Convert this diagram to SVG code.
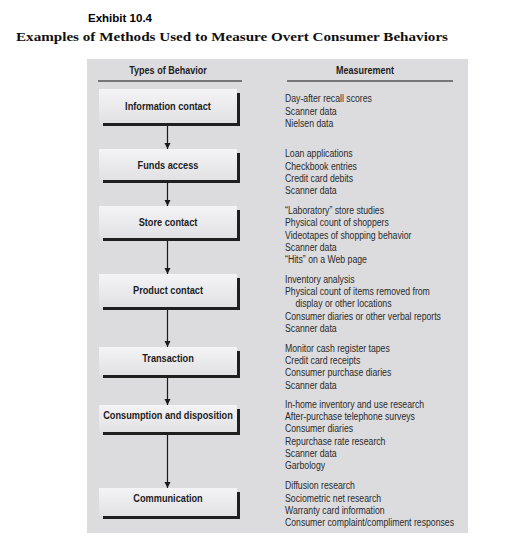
<svg xmlns="http://www.w3.org/2000/svg" width="508" height="538" viewBox="0 0 508 538">
<defs>
<linearGradient id="boxg" x1="0" y1="0" x2="0" y2="1">
<stop offset="0" stop-color="#f4f4f6"/>
<stop offset="1" stop-color="#e1e1e3"/>
</linearGradient>
<marker id="arr" viewBox="0 0 6 10" refX="6" refY="5" markerWidth="6" markerHeight="10" markerUnits="userSpaceOnUse" orient="auto">
<path d="M0,2 L6,5 L0,8 z" fill="#1a1a1a"/>
</marker>
</defs>
<style>
.panel{fill:#dcdcdf}
.box{fill:url(#boxg)}
.shadow{fill:#1f1f1f}
.lbl{font-family:"Liberation Sans",Arial,sans-serif;font-weight:bold;font-size:10.7px;fill:#1c1c24;text-anchor:middle}
.hdr{font-family:"Liberation Sans",Arial,sans-serif;font-weight:bold;font-size:10.5px;fill:#1c1c1c;text-anchor:middle}
.m{font-family:"Liberation Sans",Arial,sans-serif;font-size:10px;fill:#2a2a2a}
.conn{stroke:#1a1a1a;stroke-width:1.2;fill:none}
.rule{stroke:#111;stroke-width:1}
</style>
<text x="88" y="21.5" font-family="Liberation Sans,Arial,sans-serif" font-weight="bold" font-size="10" fill="#000" textLength="64" lengthAdjust="spacingAndGlyphs">Exhibit 10.4</text>
<text x="16" y="41" font-family="Liberation Serif,'Times New Roman',serif" font-weight="bold" font-size="12.5" fill="#111" textLength="432" lengthAdjust="spacingAndGlyphs">Examples of Methods Used to Measure Overt Consumer Behaviors</text>
<rect class="panel" x="87" y="59" width="381" height="474"/>
<g id="headers">
<g transform="translate(168 0) scale(0.86 1)"><text class="hdr" x="0" y="74">Types of Behavior</text></g>
<g transform="translate(365 0) scale(0.86 1)"><text class="hdr" x="0" y="74">Measurement</text></g>
<line class="rule" x1="98" y1="81" x2="242" y2="81"/>
<line class="rule" x1="287" y1="81" x2="453" y2="81"/>
</g>
<g id="connectors">
<line class="conn" x1="167.5" y1="126" x2="167.5" y2="149" marker-end="url(#arr)"/>
<line class="conn" x1="167.5" y1="183" x2="167.5" y2="206" marker-end="url(#arr)"/>
<line class="conn" x1="167.5" y1="241" x2="167.5" y2="274" marker-end="url(#arr)"/>
<line class="conn" x1="167.5" y1="310" x2="167.5" y2="347" marker-end="url(#arr)"/>
<line class="conn" x1="167.5" y1="378" x2="167.5" y2="405" marker-end="url(#arr)"/>
<line class="conn" x1="167.5" y1="435" x2="167.5" y2="488" marker-end="url(#arr)"/>
</g>
<g id="node-information">
<rect class="shadow" x="103" y="93" width="137" height="33"/>
<rect class="box" x="99" y="89" width="138" height="34"/>
<g transform="translate(168 0) scale(0.86 1)"><text class="lbl" x="0" y="110">Information contact</text></g>
</g>
<g id="node-funds">
<rect class="shadow" x="103" y="153" width="137" height="30"/>
<rect class="box" x="99" y="149" width="138" height="31"/>
<g transform="translate(168 0) scale(0.86 1)"><text class="lbl" x="0" y="169">Funds access</text></g>
</g>
<g id="node-store">
<rect class="shadow" x="103" y="210" width="137" height="31"/>
<rect class="box" x="99" y="206" width="138" height="32"/>
<g transform="translate(168 0) scale(0.86 1)"><text class="lbl" x="0" y="226">Store contact</text></g>
</g>
<g id="node-product">
<rect class="shadow" x="103" y="278" width="137" height="32"/>
<rect class="box" x="99" y="274" width="138" height="33"/>
<g transform="translate(168 0) scale(0.86 1)"><text class="lbl" x="0" y="294.5">Product contact</text></g>
</g>
<g id="node-transaction">
<rect class="shadow" x="103" y="351" width="137" height="27"/>
<rect class="box" x="99" y="347" width="138" height="28"/>
<g transform="translate(168 0) scale(0.86 1)"><text class="lbl" x="0" y="362.5">Transaction</text></g>
</g>
<g id="node-consumption">
<rect class="shadow" x="103" y="409" width="137" height="26"/>
<rect class="box" x="99" y="405" width="138" height="27"/>
<g transform="translate(168 0) scale(0.86 1)"><text class="lbl" x="0" y="419.5">Consumption and disposition</text></g>
</g>
<g id="node-communication">
<rect class="shadow" x="103" y="492" width="137" height="27"/>
<rect class="box" x="99" y="488" width="138" height="28"/>
<g transform="translate(168 0) scale(0.86 1)"><text class="lbl" x="0" y="502.5">Communication</text></g>
</g>
<g id="measurements" transform="translate(285 0) scale(0.87 1)">
<text class="m" x="0" y="102.5">Day-after recall scores</text>
<text class="m" x="0" y="114.8">Scanner data</text>
<text class="m" x="0" y="127.1">Nielsen data</text>
<text class="m" x="0" y="157.5">Loan applications</text>
<text class="m" x="0" y="169.8">Checkbook entries</text>
<text class="m" x="0" y="182.1">Credit card debits</text>
<text class="m" x="0" y="194.4">Scanner data</text>
<text class="m" x="0" y="214">“Laboratory” store studies</text>
<text class="m" x="0" y="226.3">Physical count of shoppers</text>
<text class="m" x="0" y="238.6">Videotapes of shopping behavior</text>
<text class="m" x="0" y="250.9">Scanner data</text>
<text class="m" x="0" y="263.2">“Hits” on a Web page</text>
<text class="m" x="0" y="282.7">Inventory analysis</text>
<text class="m" x="0" y="295">Physical count of items removed from</text>
<text class="m" x="12" y="307.3">display or other locations</text>
<text class="m" x="0" y="319.6">Consumer diaries or other verbal reports</text>
<text class="m" x="0" y="331.9">Scanner data</text>
<text class="m" x="0" y="351.7">Monitor cash register tapes</text>
<text class="m" x="0" y="364">Credit card receipts</text>
<text class="m" x="0" y="376.3">Consumer purchase diaries</text>
<text class="m" x="0" y="388.6">Scanner data</text>
<text class="m" x="0" y="407.7">In-home inventory and use research</text>
<text class="m" x="0" y="420">After-purchase telephone surveys</text>
<text class="m" x="0" y="432.3">Consumer diaries</text>
<text class="m" x="0" y="444.6">Repurchase rate research</text>
<text class="m" x="0" y="456.9">Scanner data</text>
<text class="m" x="0" y="469.2">Garbology</text>
<text class="m" x="0" y="489.3">Diffusion research</text>
<text class="m" x="0" y="501.6">Sociometric net research</text>
<text class="m" x="0" y="513.9">Warranty card information</text>
<text class="m" x="0" y="526.2">Consumer complaint/compliment responses</text>
</g>
</svg>
